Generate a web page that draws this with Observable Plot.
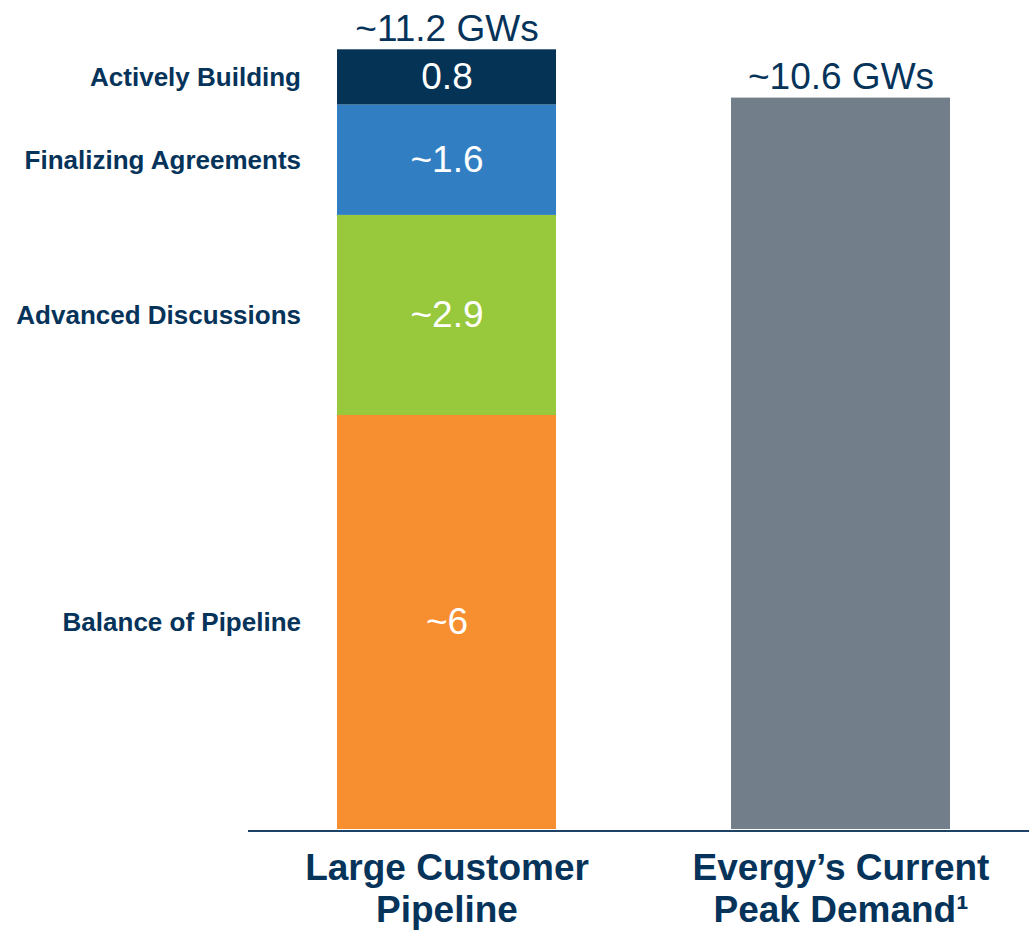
<!DOCTYPE html>
<html>
<head>
<meta charset="utf-8">
<script src="https://cdn.jsdelivr.net/npm/d3@7"></script>
<script src="https://cdn.jsdelivr.net/npm/@observablehq/plot@0.6"></script>
<style>
  body { margin: 0; background: #fff; }
</style>
</head>
<body>
<div id="chart"></div>
<script>
// Bar categories (x axis)
const categories = ["Large Customer\nPipeline", "Evergy’s Current\nPeak Demand¹"];

// Pipeline stages, bottom to top, in GW
const stages = ["Balance of Pipeline", "Advanced Discussions", "Finalizing Agreements", "Actively Building"];
const stageValues = [6, 2.9, 1.6, 0.8];
const stageLabels = ["~6", "~2.9", "~1.6", "0.8"];
const stageColors = ["#f78f31", "#98c93d", "#317ec2", "#043355"];

// Current peak demand, in GW
const peakDemand = 10.6;
const peakColor = "#727f8a";

// Labels above each bar
const totalLabels = ["~11.2 GWs", "~10.6 GWs"];

const navy = "#06335a";

const pipeline = stages.map((stage, i) => ({
  category: categories[0], stage, value: stageValues[i], label: stageLabels[i]
}));
const demand = [{category: categories[1], value: peakDemand}];
const totals = [
  {category: categories[0], value: d3.sum(stageValues), label: totalLabels[0]},
  {category: categories[1], value: peakDemand, label: totalLabels[1]}
];

const chart = Plot.plot({
  width: 1029,
  height: 930,
  marginLeft: 248,
  marginRight: 0,
  marginTop: 0,
  marginBottom: 101,
  style: {fontFamily: "'Liberation Sans', Arial, sans-serif", background: "#fff"},
  x: {domain: categories, range: [336, 951], paddingInner: 0.443, paddingOuter: 0, axis: null},
  y: {domain: [0, 10], range: [829, 139], axis: null},
  color: {domain: stages, range: stageColors},
  marks: [
    Plot.barY(pipeline, Plot.stackY({x: "category", y: "value", fill: "stage"})),
    Plot.barY(demand, {x: "category", y: "value", fill: peakColor}),
    Plot.ruleY([0], {stroke: "#1d4266", strokeWidth: 2, dy: 1.5}),
    // values inside the stacked segments
    Plot.text(pipeline, Plot.stackY({
      x: "category", y: "value", text: "label",
      fill: "white", fontSize: 37
    })),
    // stage names to the left of the stacked bar
    Plot.text(pipeline, Plot.stackY({
      x: "category", y: "value", text: "stage",
      textAnchor: "end", dx: -146, fill: navy, fontSize: 26, fontWeight: "bold"
    })),
    // totals above the bars
    Plot.text(totals, {
      x: "category", y: "value", text: "label",
      lineAnchor: "bottom", dy: -9, fill: navy, fontSize: 37
    }),
    // category labels below the baseline
    Plot.text(categories, {
      x: d => d, text: d => d, frameAnchor: "bottom", lineAnchor: "top",
      dy: 20, lineHeight: 1.15, fill: navy, fontSize: 37, fontWeight: "bold"
    })
  ]
});

document.getElementById("chart").append(chart);
</script>
</body>
</html>
